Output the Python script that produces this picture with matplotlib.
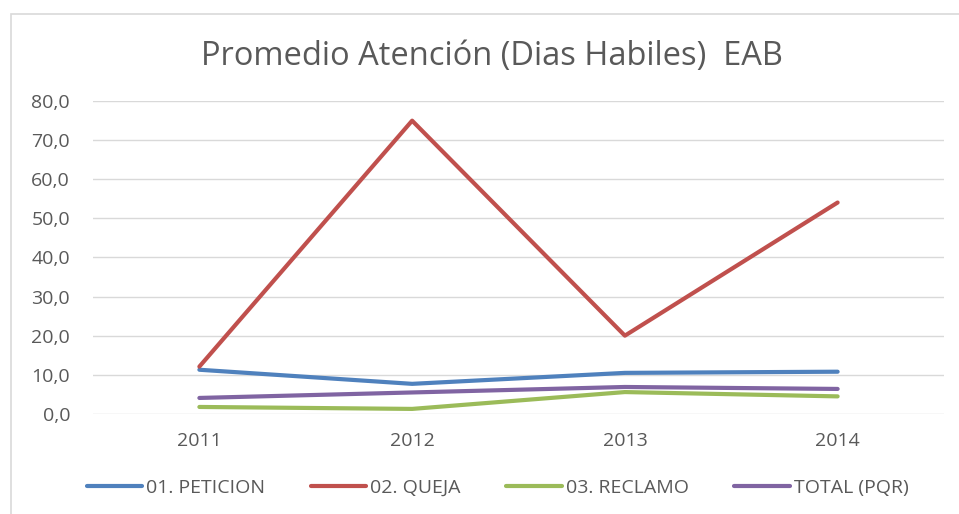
import matplotlib
matplotlib.use("Agg")
import matplotlib.pyplot as plt
from matplotlib.patches import Rectangle

years = ["2011", "2012", "2013", "2014"]
peticion = [11.3, 7.7, 10.5, 10.8]
queja = [12.1, 74.9, 20.0, 54.0]
reclamo = [1.8, 1.3, 5.6, 4.5]
total_pqr = [4.1, 5.5, 6.9, 6.4]

series = [
    ("01. PETICION", peticion, "#4F81BD"),
    ("02. QUEJA", queja, "#C0504D"),
    ("03. RECLAMO", reclamo, "#9BBB59"),
    ("TOTAL (PQR)", total_pqr, "#8064A2"),
]

plt.rcParams["font.family"] = ["Open Sans", "DejaVu Sans"]
text_color = "#595959"

fig = plt.figure(figsize=(9.59, 5.14), dpi=100)
# outer chart frame (cropped at right and bottom in the original)
fig.patches.append(Rectangle((11 / 959, -0.05), 1.1, 1 - 14 / 514 + 0.05,
                             transform=fig.transFigure, fill=False,
                             edgecolor="#D9D9D9", linewidth=1.2))

ax = fig.add_axes([93 / 959, 1 - 414 / 514, (944 - 93) / 959, (414 - 100.7) / 514])
x = range(len(years))
for name, vals, color in series:
    ax.plot(x, vals, color=color, linewidth=3, solid_capstyle="round",
            solid_joinstyle="round", label=name)

ax.set_xlim(-0.5, len(years) - 0.5)
ax.set_ylim(0, 80)
ax.set_yticks(range(0, 81, 10))
ax.set_yticklabels([f"{v},0" for v in range(0, 81, 10)])
ax.set_xticks(list(x))
ax.set_xticklabels(years)
ax.grid(axis="y", color="#D9D9D9", linewidth=1)
ax.set_axisbelow(True)
for s in ax.spines.values():
    s.set_visible(False)
ax.tick_params(length=0, labelsize=14, colors=text_color)
ax.tick_params(axis="x", pad=13)
ax.tick_params(axis="y", pad=16.5)

fig.text(0.5125, 1 - 57 / 514, "Promedio Atención (Dias Habiles)  EAB",
         ha="center", va="center", fontsize=23.5, color=text_color)

fig.legend(loc="center", bbox_to_anchor=(0.519, 1 - 488 / 514), ncol=4,
           frameon=False, fontsize=14, handlelength=2.85, handletextpad=0.2,
           columnspacing=2.35, labelcolor=text_color)

fig.savefig("out.png", dpi=100)
